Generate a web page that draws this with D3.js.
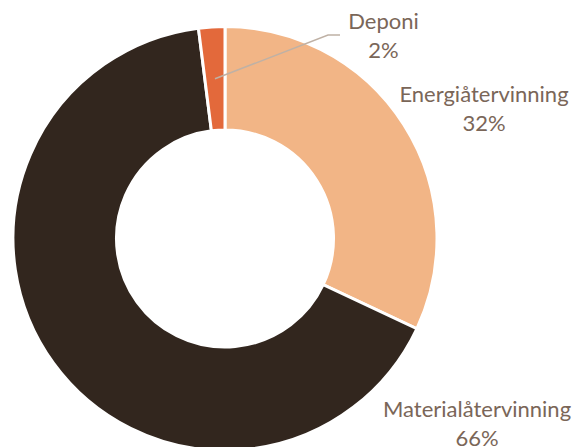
<!DOCTYPE html>
<html>
<head>
<meta charset="utf-8">
<script src="https://cdn.jsdelivr.net/npm/d3@7"></script>
<style>
  body { margin: 0; background: #fff; }
</style>
</head>
<body>
<div id="chart"></div>
<script>
// chart data
var categories = ["Energiåtervinning", "Materialåtervinning", "Deponi"];
var values = [32, 66, 2];
var labels = ["32%", "66%", "2%"];
var colors = ["#F2B586", "#32261E", "#E3693B"];

var width = 575, height = 447;
var cx = 225, cy = 238.5,
  outerR = 212, innerR = 108.5;

var svg = d3.select("#chart")
  .append("svg")
  .attr("width", width)
  .attr("height", height);

var g = svg.append("g")
  .attr("transform", "translate(" + cx + "," + cy + ")");

var pie = d3.pie().sort(null).value(d => d);
var arcs = pie(values);

var arc = d3.arc()
  .innerRadius(innerR)
  .outerRadius(outerR);

g.selectAll("path")
  .data(arcs)
  .enter()
  .append("path")
  .attr("d", arc)
  .attr("fill", (d, i) => colors[i])
  .attr("stroke", "#fff")
  .attr("stroke-width", 3);

// label positions (relative to svg)
var labelPos = [
  {x: 484, y: 102},
  {x: 477, y: 417},
  {x: 383.5, y: 29}
];

var textColor = "#7A6658";
var lineH = 28.5;

categories.forEach(function(c, i) {
  var t = svg.append("text")
    .attr("x", labelPos[i].x)
    .attr("y", labelPos[i].y)
    .attr("text-anchor", "middle")
    .attr("font-family", "Lato, 'Open Sans', sans-serif")
    .attr("font-size", "22px")
    .attr("fill", textColor);
  t.append("tspan").attr("x", labelPos[i].x).text(c);
  t.append("tspan").attr("x", labelPos[i].x).attr("dy", lineH).text(labels[i]);
});

// leader line for Deponi
var dep = arcs[2];
var midA = (dep.startAngle + dep.endAngle) / 2;
var rIn = 160;
var p0 = [cx + rIn * Math.sin(midA), cy - rIn * Math.cos(midA)];
svg.append("polyline")
  .attr("points", [p0, [328, 35], [340, 35]].map(p => p.join(",")).join(" "))
  .attr("fill", "none")
  .attr("stroke", "#BFB1A5")
  .attr("stroke-width", 1.5);
</script>
</body>
</html>
